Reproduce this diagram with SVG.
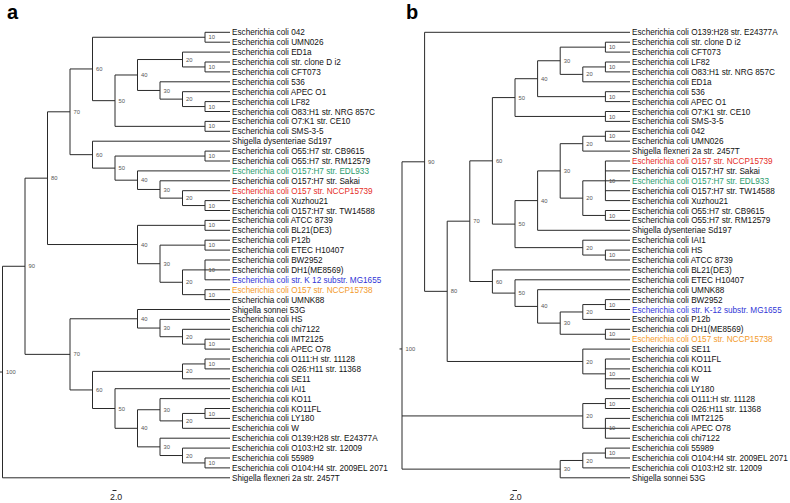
<svg xmlns="http://www.w3.org/2000/svg" width="790" height="503" viewBox="0 0 790 503">
<style>
.lf{font-family:"Liberation Sans",Arial,Helvetica,sans-serif;font-size:8.2px;fill:#111}
.nl{font-family:"Liberation Sans",Arial,Helvetica,sans-serif;font-size:5.8px;fill:#555}
.pl{font-family:"Liberation Sans",Arial,Helvetica,sans-serif;font-size:20px;font-weight:bold;fill:#000}
.sc{font-family:"Liberation Sans",Arial,Helvetica,sans-serif;font-size:8.8px;fill:#222}
.red{fill:#e52d27}.grn{fill:#2b9a6c}.blu{fill:#2f35d6}.org{fill:#f39a2b}
.br{fill:none;stroke:#2a2a2a;stroke-width:1}
</style>
<rect width="790" height="503" fill="#fff"/>
<text class="pl" x="7" y="19.3">a</text>
<text class="pl" x="406" y="19.3">b</text>
<g id="connectors" class="br">
<path d="M230 32.3H205V42.2H230M230 62H205V71.9H230M230 52.1H182.5V66.95H205M230 101.6H205V111.5H230M230 91.7H182.5V106.55H205M230 81.8H160V99.13H182.5M182.5 59.53H137.5V90.46H160M230 121.4H205V131.3H230M137.5 74.99H115V126.35H205M205 37.25H92.5V100.67H115"/>
<path d="M230 151.1H205V161H230M230 200.6H205V210.5H230M230 190.7H182.5V205.55H205M230 180.8H160V198.13H182.5M230 170.9H137.5V189.46H160M205 156.05H115V180.18H137.5M230 141.2H92.5V168.12H115M92.5 68.96H70V154.66H92.5"/>
<path d="M230 220.4H205V230.3H230M230 240.2H205V250.1H230M230 260H205V279.8H230M205 269.9H230M230 289.7H205V299.6H230M205 269.9H182.5V294.65H205M205 245.15H160V282.28H182.5M205 225.35H137.5V263.71H160M70 111.81H47.5V244.53H137.5"/>
<path d="M230 339.2H205V349.1H230M230 329.3H182.5V344.15H205M230 319.4H160V336.73H182.5M230 309.5H137.5V328.06H160M230 359H205V368.9H230M205 363.95H182.5V378.8H230M230 408.5H205V418.4H230M205 413.45H182.5V428.3H230M230 398.6H160V420.88H182.5M230 458H205V467.9H230M230 448.1H182.5V462.95H205M230 438.2H160V455.53H182.5M160 409.74H137.5V446.86H160M230 388.7H115V428.3H137.5M182.5 371.38H92.5V408.5H115M137.5 318.78H70V389.94H92.5M47.5 178.17H25V354.36H70M25 266.27H2.5V477.8H230M0 372.03H2.5"/>
<path d="M630 42.2H605.4V52.1H630M630 62H605.4V71.9H630M605.4 66.95H582.8V81.8H630M605.4 47.15H560.2V74.38H582.8M630 91.7H605.4V101.6H630M560.2 60.76H537.6V96.65H605.4M630 111.5H605.4V121.4H630M537.6 78.71H515V116.45H605.4"/>
<path d="M630 131.3H605.4V141.2H630M605.4 136.25H582.8V151.1H630M630 161H605.4V200.6H630M605.4 170.9H630M605.4 180.8H630M605.4 190.7H630M630 210.5H605.4V220.4H630M605.4 180.8H582.8V215.45H605.4M582.8 143.68H560.2V198.13H582.8M560.2 170.9H537.6V230.3H630M630 250.1H605.4V260H630M630 240.2H582.8V255.05H605.4M537.6 200.6H515V247.63H582.8M515 97.58H492.4V224.11H515"/>
<path d="M630 299.6H605.4V309.5H630M605.4 304.55H582.8V319.4H630M630 329.3H605.4V339.2H630M582.8 311.98H560.2V334.25H605.4M630 289.7H537.6V323.11H560.2M630 279.8H515V306.41H537.6M630 269.9H492.4V293.1H515M492.4 160.85H469.8V281.5H492.4M630 359H605.4V388.7H630M605.4 368.9H630M605.4 378.8H630M630 349.1H582.8V373.85H605.4M469.8 221.18H447.2V361.48H582.8M630 32.3H424.6V291.33H447.2"/>
<path d="M630 398.6H605.4V408.5H630M630 418.4H605.4V438.2H630M605.4 428.3H630M605.4 403.55H582.8V428.3H605.4M630 448.1H605.4V458H630M605.4 453.05H582.8V467.9H630M582.8 460.48H560.2V477.8H630M424.6 161.81H402V469.14H560.2M402 415.93H582.8M399.5 348.96H402"/>
<path d="M112.5 490.5H116.5M512.5 490.5H517"/>
</g>
<g id="scale-a"><text class="sc" x="110" y="500">2.0</text></g>
<g id="scale-b"><text class="sc" x="509.5" y="500">2.0</text></g>
<g id="leaves-a">
<text id="a1" class="lf" x="232" y="35.3">Escherichia coli 042</text>
<text id="a2" class="lf" x="232" y="45.2">Escherichia coli UMN026</text>
<text id="a3" class="lf" x="232" y="55.1">Escherichia coli ED1a</text>
<text id="a4" class="lf" x="232" y="65">Escherichia coli str. clone D i2</text>
<text id="a5" class="lf" x="232" y="74.9">Escherichia coli CFT073</text>
<text id="a6" class="lf" x="232" y="84.8">Escherichia coli 536</text>
<text id="a7" class="lf" x="232" y="94.7">Escherichia coli APEC O1</text>
<text id="a8" class="lf" x="232" y="104.6">Escherichia coli LF82</text>
<text id="a9" class="lf" x="232" y="114.5">Escherichia coli O83:H1 str. NRG 857C</text>
<text id="a10" class="lf" x="232" y="124.4">Escherichia coli O7:K1 str. CE10</text>
<text id="a11" class="lf" x="232" y="134.3">Escherichia coli SMS-3-5</text>
<text id="a12" class="lf" x="232" y="144.2">Shigella dysenteriae Sd197</text>
<text id="a13" class="lf" x="232" y="154.1">Escherichia coli O55:H7 str. CB9615</text>
<text id="a14" class="lf" x="232" y="164">Escherichia coli O55:H7 str. RM12579</text>
<text id="a15" class="lf grn" x="232" y="173.9">Escherichia coli O157:H7 str. EDL933</text>
<text id="a16" class="lf" x="232" y="183.8">Escherichia coli O157:H7 str. Sakai</text>
<text id="a17" class="lf red" x="232" y="193.7">Escherichia coli O157 str. NCCP15739</text>
<text id="a18" class="lf" x="232" y="203.6">Escherichia coli Xuzhou21</text>
<text id="a19" class="lf" x="232" y="213.5">Escherichia coli O157:H7 str. TW14588</text>
<text id="a20" class="lf" x="232" y="223.4">Escherichia coli ATCC 8739</text>
<text id="a21" class="lf" x="232" y="233.3">Escherichia coli BL21(DE3)</text>
<text id="a22" class="lf" x="232" y="243.2">Escherichia coli P12b</text>
<text id="a23" class="lf" x="232" y="253.1">Escherichia coli ETEC H10407</text>
<text id="a24" class="lf" x="232" y="263">Escherichia coli BW2952</text>
<text id="a25" class="lf" x="232" y="272.9">Escherichia coli DH1(ME8569)</text>
<text id="a26" class="lf blu" x="232" y="282.8">Escherichia coli str. K 12 substr. MG1655</text>
<text id="a27" class="lf org" x="232" y="292.7">Escherichia coli O157 str. NCCP15738</text>
<text id="a28" class="lf" x="232" y="302.6">Escherichia coli UMNK88</text>
<text id="a29" class="lf" x="232" y="312.5">Shigella sonnei 53G</text>
<text id="a30" class="lf" x="232" y="322.4">Escherichia coli HS</text>
<text id="a31" class="lf" x="232" y="332.3">Escherichia coli chi7122</text>
<text id="a32" class="lf" x="232" y="342.2">Escherichia coli IMT2125</text>
<text id="a33" class="lf" x="232" y="352.1">Escherichia coli APEC O78</text>
<text id="a34" class="lf" x="232" y="362">Escherichia coli O111:H str. 11128</text>
<text id="a35" class="lf" x="232" y="371.9">Escherichia coli O26:H11 str. 11368</text>
<text id="a36" class="lf" x="232" y="381.8">Escherichia coli SE11</text>
<text id="a37" class="lf" x="232" y="391.7">Escherichia coli IAI1</text>
<text id="a38" class="lf" x="232" y="401.6">Escherichia coli KO11</text>
<text id="a39" class="lf" x="232" y="411.5">Escherichia coli KO11FL</text>
<text id="a40" class="lf" x="232" y="421.4">Escherichia coli LY180</text>
<text id="a41" class="lf" x="232" y="431.3">Escherichia coli W</text>
<text id="a42" class="lf" x="232" y="441.2">Escherichia coli O139:H28 str. E24377A</text>
<text id="a43" class="lf" x="232" y="451.1">Escherichia coli O103:H2 str. 12009</text>
<text id="a44" class="lf" x="232" y="461">Escherichia coli 55989</text>
<text id="a45" class="lf" x="232" y="470.9">Escherichia coli O104:H4 str. 2009EL 2071</text>
<text id="a46" class="lf" x="232" y="480.8">Shigella flexneri 2a str. 2457T</text>
</g>
<g id="leaves-b">
<text id="b1" class="lf" x="632" y="35.3">Escherichia coli O139:H28 str. E24377A</text>
<text id="b2" class="lf" x="632" y="45.2">Escherichia coli str. clone D i2</text>
<text id="b3" class="lf" x="632" y="55.1">Escherichia coli CFT073</text>
<text id="b4" class="lf" x="632" y="65">Escherichia coli LF82</text>
<text id="b5" class="lf" x="632" y="74.9">Escherichia coli O83:H1 str. NRG 857C</text>
<text id="b6" class="lf" x="632" y="84.8">Escherichia coli ED1a</text>
<text id="b7" class="lf" x="632" y="94.7">Escherichia coli 536</text>
<text id="b8" class="lf" x="632" y="104.6">Escherichia coli APEC O1</text>
<text id="b9" class="lf" x="632" y="114.5">Escherichia coli O7:K1 str. CE10</text>
<text id="b10" class="lf" x="632" y="124.4">Escherichia coli SMS-3-5</text>
<text id="b11" class="lf" x="632" y="134.3">Escherichia coli 042</text>
<text id="b12" class="lf" x="632" y="144.2">Escherichia coli UMN026</text>
<text id="b13" class="lf" x="632" y="154.1">Shigella flexneri 2a str. 2457T</text>
<text id="b14" class="lf red" x="632" y="164">Escherichia coli O157 str. NCCP15739</text>
<text id="b15" class="lf" x="632" y="173.9">Escherichia coli O157:H7 str. Sakai</text>
<text id="b16" class="lf grn" x="632" y="183.8">Escherichia coli O157:H7 str. EDL933</text>
<text id="b17" class="lf" x="632" y="193.7">Escherichia coli O157:H7 str. TW14588</text>
<text id="b18" class="lf" x="632" y="203.6">Escherichia coli Xuzhou21</text>
<text id="b19" class="lf" x="632" y="213.5">Escherichia coli O55:H7 str. CB9615</text>
<text id="b20" class="lf" x="632" y="223.4">Escherichia coli O55:H7 str. RM12579</text>
<text id="b21" class="lf" x="632" y="233.3">Shigella dysenteriae Sd197</text>
<text id="b22" class="lf" x="632" y="243.2">Escherichia coli IAI1</text>
<text id="b23" class="lf" x="632" y="253.1">Escherichia coli HS</text>
<text id="b24" class="lf" x="632" y="263">Escherichia coli ATCC 8739</text>
<text id="b25" class="lf" x="632" y="272.9">Escherichia coli BL21(DE3)</text>
<text id="b26" class="lf" x="632" y="282.8">Escherichia coli ETEC H10407</text>
<text id="b27" class="lf" x="632" y="292.7">Escherichia coli UMNK88</text>
<text id="b28" class="lf" x="632" y="302.6">Escherichia coli BW2952</text>
<text id="b29" class="lf blu" x="632" y="312.5">Escherichia coli str. K-12 substr. MG1655</text>
<text id="b30" class="lf" x="632" y="322.4">Escherichia coli P12b</text>
<text id="b31" class="lf" x="632" y="332.3">Escherichia coli DH1(ME8569)</text>
<text id="b32" class="lf org" x="632" y="342.2">Escherichia coli O157 str. NCCP15738</text>
<text id="b33" class="lf" x="632" y="352.1">Escherichia coli SE11</text>
<text id="b34" class="lf" x="632" y="362">Escherichia coli KO11FL</text>
<text id="b35" class="lf" x="632" y="371.9">Escherichia coli KO11</text>
<text id="b36" class="lf" x="632" y="381.8">Escherichia coli W</text>
<text id="b37" class="lf" x="632" y="391.7">Escherichia coli LY180</text>
<text id="b38" class="lf" x="632" y="401.6">Escherichia coli O111:H str. 11128</text>
<text id="b39" class="lf" x="632" y="411.5">Escherichia coli O26:H11 str. 11368</text>
<text id="b40" class="lf" x="632" y="421.4">Escherichia coli IMT2125</text>
<text id="b41" class="lf" x="632" y="431.3">Escherichia coli APEC O78</text>
<text id="b42" class="lf" x="632" y="441.2">Escherichia coli chi7122</text>
<text id="b43" class="lf" x="632" y="451.1">Escherichia coli 55989</text>
<text id="b44" class="lf" x="632" y="461">Escherichia coli O104:H4 str. 2009EL 2071</text>
<text id="b45" class="lf" x="632" y="470.9">Escherichia coli O103:H2 str. 12009</text>
<text id="b46" class="lf" x="632" y="480.8">Shigella sonnei 53G</text>
</g>
<g id="nodes-a" class="nl">
<g id="nA1"><text x="208.5" y="39.3">10</text></g>
<g id="nA2"><text x="208.5" y="69">10</text></g>
<g id="nA3"><text x="186" y="61.5">20</text></g>
<g id="nA4"><text x="208.5" y="108.6">10</text></g>
<g id="nA5"><text x="186" y="101.1">20</text></g>
<g id="nA6"><text x="163.5" y="92.5">30</text></g>
<g id="nA7"><text x="141" y="77">40</text></g>
<g id="nA8"><text x="208.5" y="128.4">10</text></g>
<g id="nA9"><text x="118.5" y="102.7">50</text></g>
<g id="nA10"><text x="96" y="71">60</text></g>
<g id="nB1"><text x="208.5" y="158.1">10</text></g>
<g id="nB2"><text x="208.5" y="207.6">10</text></g>
<g id="nB3"><text x="186" y="200.1">20</text></g>
<g id="nB4"><text x="163.5" y="191.5">30</text></g>
<g id="nB5"><text x="141" y="182.2">40</text></g>
<g id="nB6"><text x="118.5" y="170.1">50</text></g>
<g id="nB7"><text x="96" y="156.7">60</text></g>
<g id="nC1"><text x="73.5" y="113.8">70</text></g>
<g id="nD1"><text x="208.5" y="227.4">10</text></g>
<g id="nD2"><text x="208.5" y="247.2">10</text></g>
<g id="nD3"><text x="208.5" y="271.9">10</text></g>
<g id="nD4"><text x="208.5" y="296.7">10</text></g>
<g id="nD5"><text x="186" y="284.3">20</text></g>
<g id="nD6"><text x="163.5" y="265.7">30</text></g>
<g id="nD7"><text x="141" y="246.5">40</text></g>
<g id="nE1"><text x="51" y="180.2">80</text></g>
<g id="nF1"><text x="208.5" y="346.2">10</text></g>
<g id="nF2"><text x="186" y="338.7">20</text></g>
<g id="nF3"><text x="163.5" y="330.1">30</text></g>
<g id="nF4"><text x="141" y="320.8">40</text></g>
<g id="nG1"><text x="208.5" y="366">10</text></g>
<g id="nG2"><text x="186" y="373.4">20</text></g>
<g id="nG3"><text x="208.5" y="415.5">10</text></g>
<g id="nG4"><text x="186" y="422.9">20</text></g>
<g id="nG5"><text x="163.5" y="411.7">30</text></g>
<g id="nG6"><text x="208.5" y="465">10</text></g>
<g id="nG7"><text x="186" y="457.5">20</text></g>
<g id="nG8"><text x="163.5" y="448.9">30</text></g>
<g id="nG9"><text x="141" y="430.3">40</text></g>
<g id="nG10"><text x="118.5" y="410.5">50</text></g>
<g id="nG11"><text x="96" y="392">60</text></g>
<g id="nH1"><text x="73.5" y="356.4">70</text></g>
<g id="nI1"><text x="28.5" y="268.3">90</text></g>
<g id="nR"><text x="6" y="374">100</text></g>
</g>
<g id="nodes-b" class="nl">
<g id="nRa1"><text x="608.9" y="49.2">10</text></g>
<g id="nRa2"><text x="608.9" y="69">10</text></g>
<g id="nRa3"><text x="586.3" y="76.4">20</text></g>
<g id="nRa4"><text x="563.7" y="62.8">30</text></g>
<g id="nRa5"><text x="608.9" y="98.7">10</text></g>
<g id="nRa6"><text x="541.1" y="80.7">40</text></g>
<g id="nRa7"><text x="608.9" y="118.5">10</text></g>
<g id="nRa8"><text x="518.5" y="99.6">50</text></g>
<g id="nRb1"><text x="608.9" y="138.3">10</text></g>
<g id="nRb2"><text x="586.3" y="145.7">20</text></g>
<g id="nRb3"><text x="608.9" y="182.8">10</text></g>
<g id="nRb4"><text x="608.9" y="217.5">10</text></g>
<g id="nRb5"><text x="586.3" y="200.1">20</text></g>
<g id="nRb6"><text x="563.7" y="172.9">30</text></g>
<g id="nRb7"><text x="541.1" y="202.6">40</text></g>
<g id="nRc1"><text x="608.9" y="257.1">10</text></g>
<g id="nRc2"><text x="586.3" y="249.6">20</text></g>
<g id="nRc3"><text x="518.5" y="226.1">50</text></g>
<g id="nRd1"><text x="495.9" y="162.9">60</text></g>
<g id="nRe1"><text x="608.9" y="306.6">10</text></g>
<g id="nRe2"><text x="586.3" y="314">20</text></g>
<g id="nRe3"><text x="608.9" y="336.3">10</text></g>
<g id="nRe4"><text x="563.7" y="325.1">30</text></g>
<g id="nRe5"><text x="541.1" y="308.4">40</text></g>
<g id="nRe6"><text x="518.5" y="295.1">50</text></g>
<g id="nRe7"><text x="495.9" y="283.5">60</text></g>
<g id="nRf1"><text x="473.3" y="223.2">70</text></g>
<g id="nRg1"><text x="608.9" y="375.9">10</text></g>
<g id="nRg2"><text x="586.3" y="363.5">20</text></g>
<g id="nRh1"><text x="450.7" y="293.3">80</text></g>
<g id="nRi1"><text x="428.1" y="163.8">90</text></g>
<g id="nRj1"><text x="608.9" y="405.6">10</text></g>
<g id="nRj2"><text x="608.9" y="430.3">10</text></g>
<g id="nRj3"><text x="586.3" y="417.9">20</text></g>
<g id="nRk1"><text x="608.9" y="455.1">10</text></g>
<g id="nRk2"><text x="586.3" y="462.5">20</text></g>
<g id="nRk3"><text x="563.7" y="471.1">30</text></g>
<g id="nRR"><text x="405.5" y="351">100</text></g>
</g>
</svg>
